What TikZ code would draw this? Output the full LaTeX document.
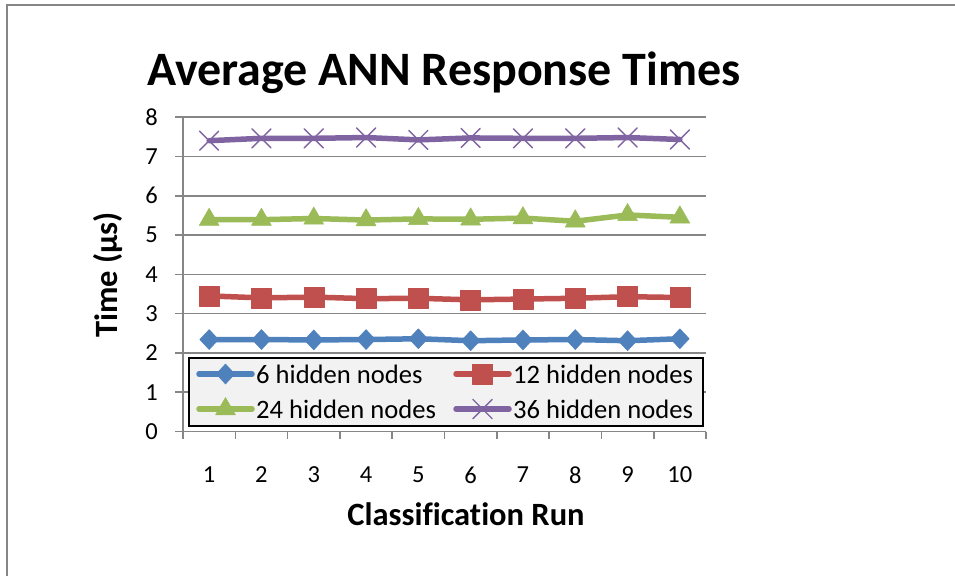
\documentclass[tikz,border=0pt]{standalone}
\usepackage{fontspec}
\setmainfont{Carlito}[Ligatures=NoCommon]
\usetikzlibrary{plotmarks}
\definecolor{sblue}{HTML}{4F81BD}
\definecolor{sred}{HTML}{C0504D}
\definecolor{sgreen}{HTML}{9BBB59}
\definecolor{spurple}{HTML}{8064A2}
\definecolor{gridgray}{HTML}{868686}
\definecolor{legfill}{HTML}{F2F2F2}
\tikzset{
  grid line/.style={draw=gridgray, line width=1.6pt},
  ticklabel/.style={font=\fontsize{24.5}{24.5}\selectfont, inner sep=0pt},
  axistitle/.style={font=\fontsize{32.5}{32.5}\selectfont\bfseries, inner sep=0pt},
  series/.style={line width=5.5pt, line join=round, line cap=round},
  s6/.style={series, color=sblue, mark=diamond*, mark size=10pt, mark options={xscale=1.25, line width=0.5pt}},
  s12/.style={series, color=sred, mark=square*, mark size=10pt, mark options={line width=0.5pt}},
  s24/.style={series, color=sgreen, mark=triangle*, mark size=11.5pt, mark options={line width=0.5pt}},
  s36/.style={series, color=spurple, mark=x, mark size=13.5pt, mark options={line width=1.4pt}},
  legtext/.style={font=\fontsize{26.6}{26.6}\selectfont, anchor=west, inner sep=0pt},
}
\begin{document}
\begin{tikzpicture}[x=1pt, y=-1pt]
\useasboundingbox (0,0) rectangle (955,576);
\fill[white] (0,0) rectangle (955,576);
% chart area border
\draw[gridgray, line width=1.6pt] (7,576) -- (7,5) -- (955,5);

% title
\node[font=\fontsize{48}{48}\selectfont\bfseries, inner sep=0pt] (title) at (444,73) {Average ANN Response Times};

% horizontal grid lines and y tick labels
\foreach \v in {0,...,8} {
  \draw[grid line] (175,{431.5-39.3*\v}) -- (706,{431.5-39.3*\v});
  \node[ticklabel, anchor=east] (ylab\v) at (158,{431.5-39.3*\v}) {\v};
}
% y axis
\draw[grid line] (183,117) -- (183,431.5);
% x axis ticks and category labels
\foreach \i in {0,...,10} {
  \draw[grid line] ({183+52.3*\i},431.5) -- ({183+52.3*\i},439);
}
\foreach \i in {1,...,10} {
  \node[ticklabel] (xlab\i) at ({156.85+52.3*\i},475) {\i};
}

% axis titles
\node[axistitle] (xtitle) at (466,514) {Classification Run};
\node[axistitle, rotate=90] (ytitle) at (108,275) {Time (µs)};

% data series in category/value units
\begin{scope}[x=52.3pt, y=39.3pt, shift={(156.85pt,-431.5pt)}]
\draw[s36] plot coordinates {(1,7.40) (2,7.46) (3,7.46) (4,7.48) (5,7.42) (6,7.47) (7,7.46) (8,7.46) (9,7.48) (10,7.43)};
\draw[s24] plot coordinates {(1,5.39) (2,5.39) (3,5.42) (4,5.38) (5,5.41) (6,5.40) (7,5.43) (8,5.35) (9,5.51) (10,5.45)};
\draw[s12] plot coordinates {(1,3.45) (2,3.40) (3,3.42) (4,3.38) (5,3.39) (6,3.35) (7,3.37) (8,3.39) (9,3.43) (10,3.41)};
\draw[s6] plot coordinates {(1,2.34) (2,2.34) (3,2.33) (4,2.34) (5,2.36) (6,2.31) (7,2.33) (8,2.34) (9,2.31) (10,2.36)};
\end{scope}

% legend
\draw[black, line width=1.2pt, fill=legfill] (189,358) rectangle (703,426);
\draw[series, color=sblue] (199,374) -- (252,374);
\draw[s6, only marks] plot coordinates {(225.5,374)};
\node[legtext] (leg6) at (256,374) {6 hidden nodes};
\draw[series, color=sred] (456,374) -- (509,374);
\draw[s12, only marks] plot coordinates {(482.5,374)};
\node[legtext] (leg12) at (513,374) {12 hidden nodes};
\draw[series, color=sgreen] (199,409) -- (252,409);
\draw[s24, only marks] plot coordinates {(225.5,409)};
\node[legtext] (leg24) at (256,409) {24 hidden nodes};
\draw[series, color=spurple] (456,409) -- (509,409);
\draw[s36, only marks] plot coordinates {(482.5,409)};
\node[legtext] (leg36) at (513,409) {36 hidden nodes};
\end{tikzpicture}
\end{document}
